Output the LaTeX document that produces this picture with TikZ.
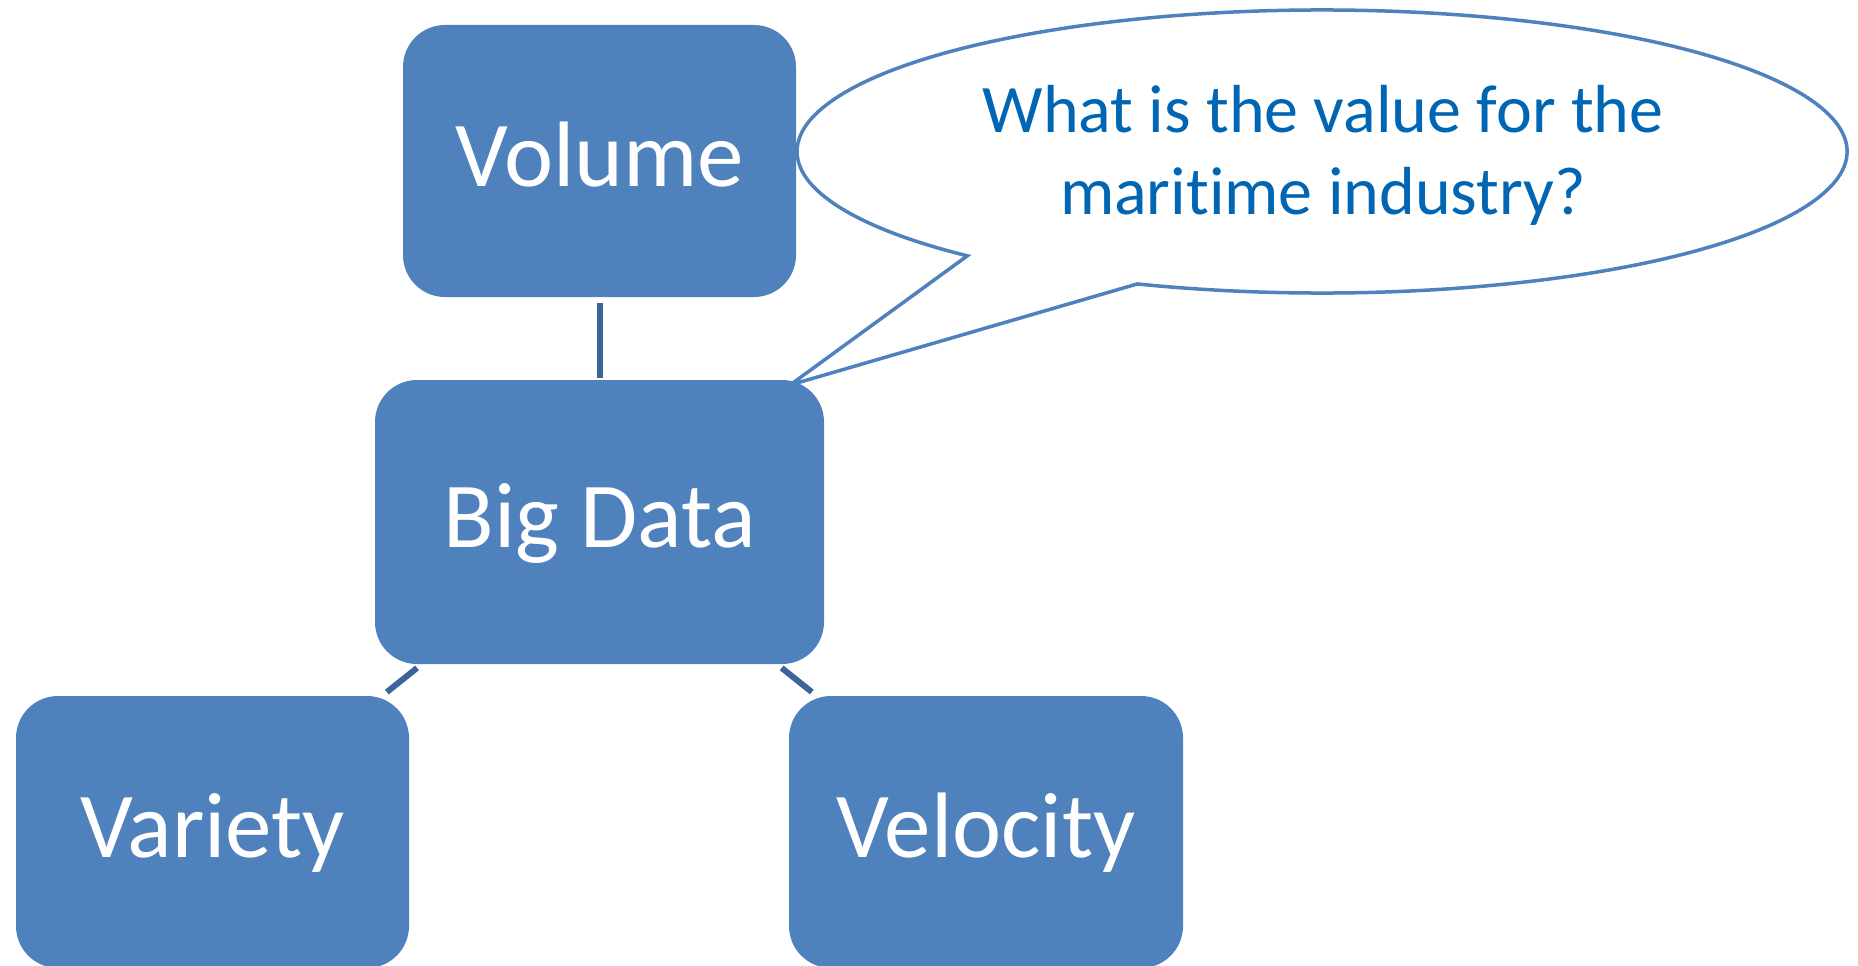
\documentclass[tikz,border=0pt]{standalone}
\usepackage{fontspec}
\setmainfont{Carlito}[Ligatures={NoCommon}]
\definecolor{boxblue}{RGB}{79,129,189}
\definecolor{linkblue}{RGB}{60,100,155}
\definecolor{asktext}{RGB}{0,102,179}
\tikzset{
  vbox/.style={fill=boxblue, draw=none, rounded corners=42pt, text=white,
    font=\fontsize{93}{100}\selectfont, text height=51pt, text depth=0pt,
    inner sep=0pt, minimum width=#1, minimum height=272pt},
  link/.style={draw=linkblue, line width=6pt, shorten <=6pt, shorten >=6pt},
  balloon/.style={draw=boxblue, line width=3.5pt, fill=white, line join=miter},
}
\begin{document}
\begin{tikzpicture}[x=1pt,y=1pt]
  \useasboundingbox (0,0) rectangle (1858,-966);
  \clip (0,0) rectangle (1858,-966);

  % the four V boxes
  \node[vbox=393pt] (vol) at (599.5,-161) {Volume};
  \node[vbox=449pt, minimum height=284pt] (big) at (599.5,-522) {Big Data};
  \node[vbox=393pt] (var) at (212.5,-832) {Variety};
  \node[vbox=394pt] (vel) at (986,-832) {Velocity};

  % links between the boxes
  \draw[link, shorten <=6pt, shorten >=2pt] (vol) -- (big);
  \draw[link] (big) -- (var);
  \draw[link] (big) -- (vel);

  % speech balloon pointing at Big Data
  \coordinate (ell) at (1322,-151.5);
  \coordinate (tip) at (790,-385);
  \draw[balloon] (ell) ++(249.4:525 and 141.5)
    arc[start angle=249.4, end angle=587.5, x radius=525, y radius=141.5]
    -- (tip) -- cycle;
  \node[text=asktext, align=center, inner sep=0pt,
        font=\fontsize{68}{82}\selectfont] (q) at (1323,-155.5)
    {What is the value for the\\maritime industry?};
\end{tikzpicture}
\end{document}
